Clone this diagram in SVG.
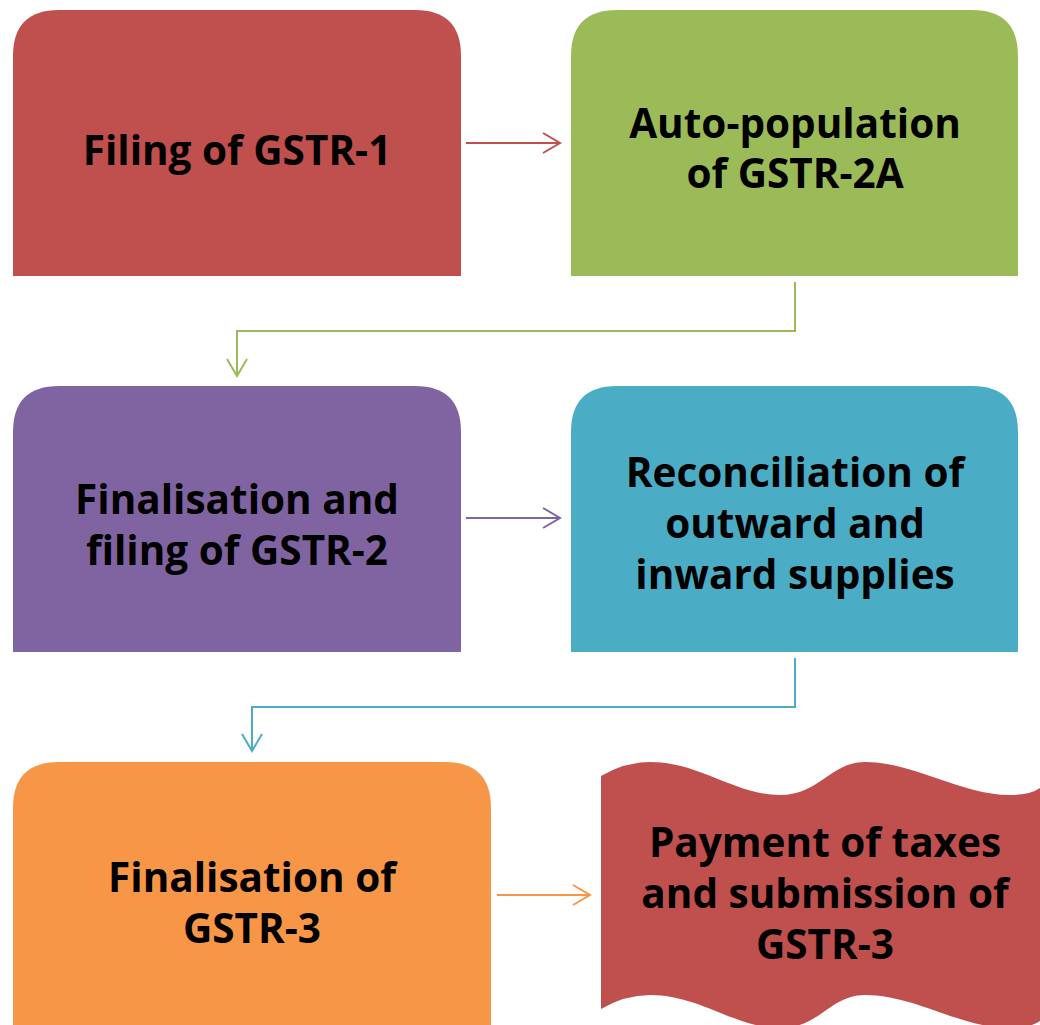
<svg xmlns="http://www.w3.org/2000/svg" width="1040" height="1025" viewBox="0 0 1040 1025">
<defs>
<style>
.t{font-family:"Open Sans","Noto Sans","Liberation Sans",sans-serif;font-weight:700;font-size:40.5px;fill:#000;text-anchor:middle}
.c{fill:none;stroke-width:2}
</style>
<marker id="mr" markerUnits="userSpaceOnUse" markerWidth="24" markerHeight="24" viewBox="-20 -12 24 24" refX="0" refY="0" orient="auto"><path d="M-17,-10 L0,0 L-17,10" fill="none" stroke="#C0504D" stroke-width="2"/></marker>
<marker id="mg" markerUnits="userSpaceOnUse" markerWidth="24" markerHeight="24" viewBox="-20 -12 24 24" refX="0" refY="0" orient="auto"><path d="M-17,-10 L0,0 L-17,10" fill="none" stroke="#9BBB59" stroke-width="2"/></marker>
<marker id="mp" markerUnits="userSpaceOnUse" markerWidth="24" markerHeight="24" viewBox="-20 -12 24 24" refX="0" refY="0" orient="auto"><path d="M-17,-10 L0,0 L-17,10" fill="none" stroke="#8064A2" stroke-width="2"/></marker>
<marker id="mb" markerUnits="userSpaceOnUse" markerWidth="24" markerHeight="24" viewBox="-20 -12 24 24" refX="0" refY="0" orient="auto"><path d="M-17,-10 L0,0 L-17,10" fill="none" stroke="#4BACC6" stroke-width="2"/></marker>
<marker id="mo" markerUnits="userSpaceOnUse" markerWidth="24" markerHeight="24" viewBox="-20 -12 24 24" refX="0" refY="0" orient="auto"><path d="M-17,-10 L0,0 L-17,10" fill="none" stroke="#F79646" stroke-width="2"/></marker>
</defs>
<g id="n1">
<path d="M13,276 V56 Q13,10 59,10 H415 Q461,10 461,56 V276 Z" fill="#C0504D"/>
<text class="t" x="237" y="165">Filing of GSTR-1</text>
</g>
<g id="n2">
<path d="M571,276 V56 Q571,10 617,10 H972 Q1018,10 1018,56 V276 Z" fill="#9BBB59"/>
<text class="t" x="795" y="138">Auto-population</text>
<text class="t" x="795" y="188">of GSTR-2A</text>
</g>
<g id="n3">
<path d="M13,652 V432 Q13,386 59,386 H415 Q461,386 461,432 V652 Z" fill="#8064A2"/>
<text class="t" x="237" y="514">Finalisation and</text>
<text class="t" x="237" y="565">filing of GSTR-2</text>
</g>
<g id="n4">
<path d="M571,652 V432 Q571,386 617,386 H972 Q1018,386 1018,432 V652 Z" fill="#4BACC6"/>
<text class="t" x="795" y="487">Reconciliation of</text>
<text class="t" x="795" y="538">outward and</text>
<text class="t" x="795" y="589">inward supplies</text>
</g>
<g id="n5">
<path d="M13,1030 V808 Q13,762 59,762 H445 Q491,762 491,808 V1030 Z" fill="#F79646"/>
<text class="t" x="252" y="892">Finalisation of</text>
<text class="t" x="252" y="943">GSTR-3</text>
</g>
<g id="n6">
<path d="M601,776 Q625,762 650,762 C700,762 735,795 780,795 C820,795 830,762 865,762 C915,762 960,795 1010,795 Q1030,795 1040,788 V1021 Q1030,1028 1010,1028 C960,1028 915,995 865,995 C830,995 820,1028 780,1028 C735,1028 700,995 650,995 Q625,995 601,1009 Z" fill="#C0504D"/>
<text class="t" x="825" y="857">Payment of taxes</text>
<text class="t" x="825" y="908">and submission of</text>
<text class="t" x="825" y="959">GSTR-3</text>
</g>
<g id="connectors">
<path class="c" d="M466,143 H560" stroke="#C0504D" marker-end="url(#mr)"/>
<path class="c" d="M795,282 V331 H237 V376" stroke="#9BBB59" marker-end="url(#mg)"/>
<path class="c" d="M466,518 H560" stroke="#8064A2" marker-end="url(#mp)"/>
<path class="c" d="M795,658 V707 H252 V751" stroke="#4BACC6" marker-end="url(#mb)"/>
<path class="c" d="M497,895 H590" stroke="#F79646" marker-end="url(#mo)"/>
</g>
</svg>
